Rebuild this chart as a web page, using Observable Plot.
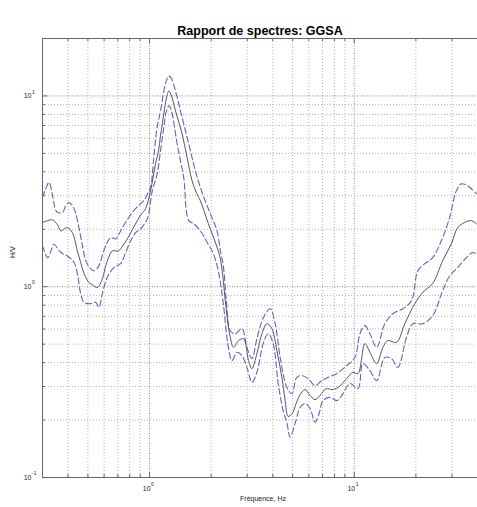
<!DOCTYPE html>
<html><head><meta charset="utf-8">
<script src="https://cdn.jsdelivr.net/npm/d3@7"></script>
<script src="https://cdn.jsdelivr.net/npm/@observablehq/plot@0.6"></script>
<style>html,body{margin:0;padding:0;background:#fff;} svg{display:block}</style>
</head><body><div id="chart"></div>
<script>
const title = "Rapport de spectres: GGSA";
const xLabel = "Fréquence, Hz";
const yLabel = "H/V";

// Mean H/V (solid)
const freqMean = [0.300,0.318,0.336,0.355,0.369,0.383,0.397,0.420,0.444,0.461,0.479,0.506,0.528,0.556,0.588,0.611,0.631,0.658,0.706,0.739,0.779,0.824,0.871,0.914,0.956,1.011,1.070,1.106,1.131,1.174,1.210,1.242,1.280,1.339,1.443,1.526,1.614,1.694,1.772,1.938,2.137,2.218,2.280,2.345,2.480,2.574,2.723,2.879,3.045,3.164,3.346,3.539,3.743,3.960,4.188,4.430,4.597,4.753,4.972,5.200,5.439,5.753,6.084,6.435,6.806,7.279,7.788,8.330,9.184,9.856,10.42,11.27,11.93,12.86,13.80,14.59,16.09,17.66,19.76,21.61,24.17,27.04,29.82,32.00,34.61,37.31,39.47];
const hvMean = [2.17,2.22,2.24,2.11,1.96,2.01,2.04,1.92,1.54,1.34,1.17,1.05,1.02,0.99,1.10,1.29,1.42,1.54,1.54,1.64,1.78,1.99,2.22,2.41,2.56,3.18,4.41,5.15,6.17,8.05,9.76,10.6,10.0,8.35,6.32,4.75,3.59,3.11,2.82,2.14,1.61,1.40,1.14,0.845,0.543,0.481,0.522,0.534,0.410,0.372,0.446,0.567,0.640,0.603,0.462,0.335,0.253,0.209,0.216,0.244,0.272,0.289,0.269,0.256,0.269,0.292,0.289,0.296,0.330,0.356,0.350,0.503,0.453,0.395,0.481,0.522,0.511,0.640,0.815,0.934,1.04,1.37,1.68,2.04,2.17,2.22,2.14];

// Mean x std (upper dashed)
const freqUpper = [0.300,0.311,0.323,0.336,0.349,0.360,0.376,0.390,0.405,0.428,0.453,0.470,0.488,0.516,0.536,0.566,0.597,0.621,0.646,0.683,0.715,0.747,0.790,0.836,0.884,0.935,0.978,1.011,1.046,1.082,1.131,1.197,1.242,1.280,1.339,1.443,1.554,1.675,1.805,1.982,2.137,2.218,2.293,2.372,2.480,2.624,2.828,2.991,3.164,3.346,3.604,3.885,4.110,4.346,4.685,4.956,5.242,5.543,5.951,6.435,6.937,7.446,8.209,9.184,10.08,10.66,11.27,11.93,12.86,14.11,15.44,17.27,19.04,20.43,22.10,24.17,26.65,29.25,31.53,33.36,35.80,39.47];
const hvUpper = [2.94,3.26,3.52,3.00,2.50,2.44,2.45,2.66,2.76,2.56,2.01,1.64,1.37,1.24,1.21,1.29,1.54,1.70,1.81,1.78,1.92,2.09,2.30,2.50,2.66,2.82,3.07,3.31,4.57,6.56,8.35,11.6,12.7,12.3,10.6,7.70,5.61,4.05,3.12,2.41,1.96,1.54,1.29,0.845,0.588,0.567,0.603,0.481,0.420,0.534,0.691,0.767,0.640,0.426,0.297,0.275,0.335,0.342,0.330,0.303,0.322,0.335,0.350,0.386,0.426,0.567,0.625,0.567,0.481,0.640,0.722,0.767,0.845,1.21,1.32,1.42,1.74,2.31,3.18,3.46,3.38,3.07];

// Mean / std (lower dashed)
const freqLower = [0.300,0.318,0.330,0.342,0.362,0.377,0.397,0.428,0.446,0.461,0.479,0.516,0.546,0.566,0.588,0.622,0.670,0.722,0.764,0.808,0.855,0.904,0.975,1.031,1.090,1.131,1.174,1.210,1.245,1.280,1.364,1.416,1.469,1.554,1.643,1.772,1.910,2.050,2.168,2.293,2.426,2.528,2.674,2.828,2.991,3.164,3.346,3.592,3.799,4.018,4.250,4.495,4.685,4.862,5.143,5.439,5.753,6.084,6.435,6.730,7.039,7.614,8.209,8.810,9.529,10.42,11.03,11.93,12.86,14.11,15.21,16.33,18.00,19.32,21.61,24.17,27.04,29.25,32.00,35.28,37.87,39.47];
const hvLower = [1.64,1.42,1.54,1.67,1.54,1.49,1.45,1.34,1.14,0.919,0.828,0.815,0.828,0.779,0.919,1.12,1.26,1.32,1.51,1.74,1.92,2.01,2.27,3.18,3.91,5.15,6.82,8.35,8.87,8.35,5.61,4.57,3.73,2.22,2.14,1.96,1.71,1.49,1.21,0.815,0.481,0.410,0.453,0.435,0.378,0.315,0.356,0.503,0.567,0.503,0.311,0.224,0.194,0.163,0.192,0.233,0.244,0.230,0.195,0.216,0.253,0.263,0.253,0.275,0.311,0.292,0.395,0.363,0.322,0.426,0.420,0.378,0.543,0.640,0.640,0.705,0.953,1.14,1.26,1.42,1.51,1.49];

const xDomain = [0.3, 40];
const yDomain = [0.1, 20];
const xMajor = [1, 10];
const xMajorExp = ["0", "1"];
const yMajor = [0.1, 1, 10];
const yMajorExp = ["-1", "0", "1"];
const xMinor = [0.3,0.4,0.5,0.6,0.7,0.8,0.9,2,3,4,5,6,7,8,9,20,30,40];
const yMinor = [0.2,0.3,0.4,0.5,0.6,0.7,0.8,0.9,2,3,4,5,6,7,8,9,20];

const toRows = (fs, vs) => fs.map((f, i) => ({f, v: vs[i]}));
const meanRows = toRows(freqMean, hvMean);
const upperRows = toRows(freqUpper, hvUpper);
const lowerRows = toRows(freqLower, hvLower);

const font = 7;
const dashColor = "#6262c2";

const chart = Plot.plot({
  width: 477,
  height: 507,
  marginLeft: 42,
  marginRight: 0,
  marginTop: 38,
  marginBottom: 30,
  style: {fontFamily: "'Liberation Sans', Arial, sans-serif", background: "#fff"},
  x: {type: "log", domain: xDomain, axis: null},
  y: {type: "log", domain: yDomain, axis: null},
  marks: [
    // grid
    Plot.ruleX(xMinor, {x: d => d, stroke: "#b4b4b4", strokeDasharray: "1,2"}),
    Plot.ruleY(yMinor, {y: d => d, stroke: "#b4b4b4", strokeDasharray: "1,2"}),
    Plot.ruleX(xMajor, {x: d => d, stroke: "#8c8c8c", strokeDasharray: "1,1.5"}),
    Plot.ruleY(yMajor, {y: d => d, stroke: "#8c8c8c", strokeDasharray: "1,1.5"}),
    // inward ticks
    Plot.tickX(xMinor, {x: d => d, stroke: "#666", insetTop: 436}),
    Plot.tickX(xMinor, {x: d => d, stroke: "#666", insetBottom: 436}),
    Plot.tickX(xMajor, {x: d => d, stroke: "#666", insetTop: 434}),
    Plot.tickX(xMajor, {x: d => d, stroke: "#666", insetBottom: 434}),
    Plot.tickY(yMinor, {y: d => d, stroke: "#666", insetRight: 432}),
    Plot.tickY(yMajor, {y: d => d, stroke: "#666", insetRight: 430}),
    // curves
    Plot.line(upperRows, {x: "f", y: "v", stroke: dashColor, strokeWidth: 1.1, strokeDasharray: "6,3", curve: "catmull-rom"}),
    Plot.line(lowerRows, {x: "f", y: "v", stroke: dashColor, strokeWidth: 1.1, strokeDasharray: "6,3", curve: "catmull-rom"}),
    Plot.line(meanRows, {x: "f", y: "v", stroke: "#555", strokeWidth: 1, curve: "catmull-rom"}),
    // frame (left, top, bottom)
    Plot.ruleX([xDomain[0]], {x: d => d, stroke: "#666"}),
    Plot.ruleY(yDomain, {y: d => d, stroke: "#666"}),
    // tick labels
    Plot.text(xMajor, {x: d => d, frameAnchor: "bottom", text: () => "10", textAnchor: "end", dx: 1, dy: 13, fontSize: font, fill: "#222"}),
    Plot.text(xMajor, {x: d => d, frameAnchor: "bottom", text: (d, i) => xMajorExp[i], textAnchor: "start", dx: 1.5, dy: 8, fontSize: 5, fill: "#222"}),
    Plot.text(yMajor, {y: d => d, frameAnchor: "left", text: () => "10", textAnchor: "end", dx: -11, dy: 0, fontSize: font, fill: "#222"}),
    Plot.text(yMajor, {y: d => d, frameAnchor: "left", text: (d, i) => yMajorExp[i], textAnchor: "start", dx: -10.5, dy: -4, fontSize: 5, fill: "#222"}),
    // axis labels and title
    Plot.text([xLabel], {frameAnchor: "bottom", dx: 3, dy: 23, fontSize: font, fill: "#222"}),
    Plot.text([yLabel], {frameAnchor: "left", dx: -30, rotate: -90, fontSize: font, fill: "#222"}),
    Plot.text([title], {frameAnchor: "top", dy: -12, fontSize: 12.5, fontWeight: "bold", fill: "#000"})
  ]
});
document.getElementById("chart").appendChild(chart);
</script>
</body></html>
